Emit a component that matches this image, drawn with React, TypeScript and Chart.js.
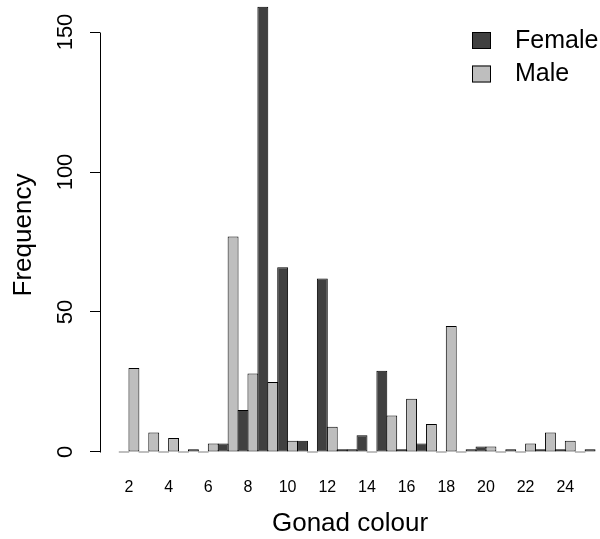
import React, { useEffect, useRef } from "react";
import { Chart, registerables } from "chart.js";

Chart.register(...registerables);

// ---- data ----
const categories = [2, 3, 4, 5, 6, 7, 8, 9, 10, 11, 12, 13, 14, 15, 16, 17, 18, 19, 20, 21, 22, 23, 24, 25];
const female = [0, 0, 0, 0, 0, 3, 15, 159, 66, 4, 62, 1, 6, 29, 1, 3, 0, 0, 2, 0, 0, 1, 1, 0];
const male = [30, 7, 5, 1, 3, 77, 28, 25, 4, 0, 9, 1, 0, 13, 19, 10, 45, 1, 2, 1, 3, 7, 4, 1];
const seriesLabels = ["Female", "Male"];
const xTickLabels = [2, 4, 6, 8, 10, 12, 14, 16, 18, 20, 22, 24];
const yTicks = [0, 50, 100, 150];
const xTitle = "Gonad colour";
const yTitle = "Frequency";

// visible axis window (the original plot region is slightly cropped at top/right)
const X_MIN = 0.54;
const X_MAX = 25.75;
const Y_MIN = -6.43;
const Y_MAX = 161.43;

const FONT = "'Liberation Sans', Arial, Helvetica, sans-serif";
const DARK = "#404040";
const LIGHT = "#bebebe";

function zeroPadding(s: any) {
  s.paddingTop = 0;
  s.paddingBottom = 0;
  s.paddingLeft = 0;
  s.paddingRight = 0;
}

export default function App() {
  const ref = useRef<HTMLCanvasElement>(null);

  useEffect(() => {
    if (!ref.current) return;

    const yAxisLine = {
      id: "yAxisLine",
      afterDraw(chart: any) {
        const ys = chart.scales.y;
        const ctx = chart.ctx;
        const x = chart.chartArea.left + 0.5;
        ctx.save();
        ctx.strokeStyle = "#000";
        ctx.lineWidth = 1;
        ctx.beginPath();
        ctx.moveTo(x, Math.round(ys.getPixelForValue(yTicks[0])) + 0.5);
        ctx.lineTo(x, Math.round(ys.getPixelForValue(yTicks[yTicks.length - 1])) + 0.5);
        ctx.stroke();
        ctx.restore();
      },
    };

    const legendPlugin = {
      id: "rLegend",
      afterDraw(chart: any) {
        const ctx = chart.ctx;
        ctx.save();
        chart.data.datasets.forEach((ds: any, i: number) => {
          const bx = 472;
          const by = 32 + i * 33.5;
          ctx.fillStyle = ds.backgroundColor;
          ctx.fillRect(bx, by, 19, 17);
          ctx.strokeStyle = "#000";
          ctx.lineWidth = 1;
          ctx.strokeRect(bx + 0.5, by + 0.5, 18, 16);
          ctx.fillStyle = "#000";
          ctx.font = `25px ${FONT}`;
          ctx.textAlign = "left";
          ctx.textBaseline = "middle";
          ctx.fillText(ds.label, 515, by + 9);
        });
        ctx.restore();
      },
    };

    const chart = new Chart(ref.current, {
      type: "bar",
      data: {
        datasets: [
          {
            label: seriesLabels[0],
            data: categories.map((c, i) => ({ x: c, y: female[i] })),
            backgroundColor: DARK,
            borderColor: "#000",
            borderWidth: 1,
            borderSkipped: false,
            barPercentage: 1.1,
            categoryPercentage: 1,
            minBarLength: 1,
          },
          {
            label: seriesLabels[1],
            data: categories.map((c, i) => ({ x: c, y: male[i] })),
            backgroundColor: LIGHT,
            borderColor: "#000",
            borderWidth: 1,
            borderSkipped: false,
            barPercentage: 1.1,
            categoryPercentage: 1,
            minBarLength: 1,
          },
        ],
      },
      options: {
        responsive: false,
        animation: false,
        events: [],
        layout: { padding: 0 },
        plugins: {
          legend: { display: false },
          tooltip: { enabled: false },
          title: { display: false },
        },
        scales: {
          x: {
            type: "linear",
            min: X_MIN,
            max: X_MAX,
            offset: false,
            afterBuildTicks: (s: any) => {
              s.ticks = xTickLabels.map((v) => ({ value: v }));
            },
            afterFit: (s: any) => {
              s.height = 69;
              zeroPadding(s);
            },
            grid: { display: false, drawTicks: false, offset: false },
            border: { display: false },
            ticks: {
              autoSkip: false,
              maxRotation: 0,
              padding: 8,
              color: "#000",
              font: { size: 16, family: FONT },
            },
            title: {
              display: true,
              text: xTitle,
              color: "#000",
              font: { size: 26, family: FONT },
              padding: { top: 0, bottom: 0 },
            },
          },
          y: {
            type: "linear",
            min: Y_MIN,
            max: Y_MAX,
            afterBuildTicks: (s: any) => {
              s.ticks = yTicks.map((v) => ({ value: v }));
            },
            afterFit: (s: any) => {
              s.width = 100;
              zeroPadding(s);
            },
            grid: { drawOnChartArea: false, drawTicks: true, tickLength: 10, color: "#000", lineWidth: 1 },
            border: { display: false },
            ticks: {
              minRotation: 90,
              maxRotation: 90,
              crossAlign: "center",
              padding: 6,
              color: "#000",
              font: { size: 22, family: FONT },
            },
            title: {
              display: true,
              text: yTitle,
              color: "#000",
              font: { size: 26, family: FONT },
              padding: { top: 8, bottom: 0 },
            },
          },
        },
      },
      plugins: [yAxisLine, legendPlugin],
    } as any);

    return () => chart.destroy();
  }, []);

  return (
    <div style={{ position: "absolute", left: 0, top: 0, width: 600, height: 539, background: "#fff" }}>
      <canvas ref={ref} width={600} height={539} style={{ display: "block", width: 600, height: 539 }} />
    </div>
  );
}
